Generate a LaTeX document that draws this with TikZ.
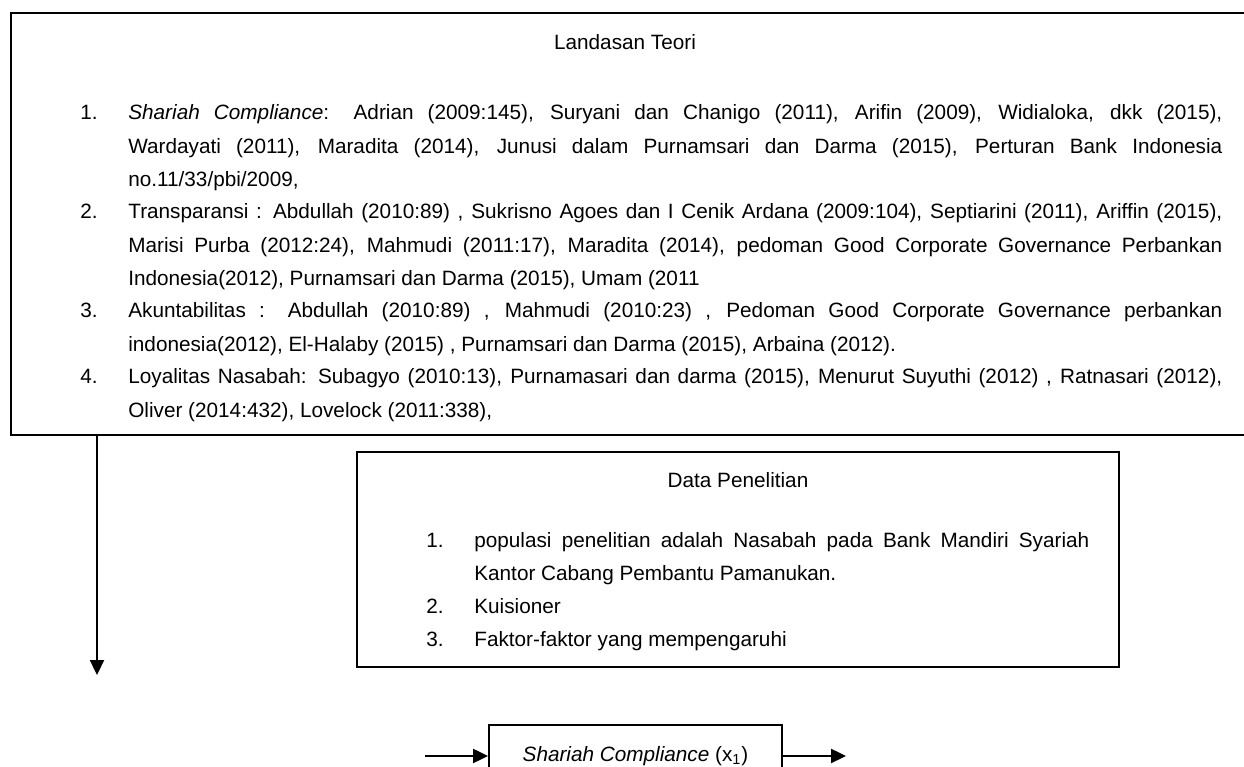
\documentclass[tikz,border=0pt]{standalone}
\usepackage{fontspec}
\setmainfont{Liberation Sans}
\usetikzlibrary{arrows.meta,positioning}
\newcommand{\jl}[1]{\makebox[\linewidth][s]{#1}}
\newcommand{\butir}[3]{\makebox[0.96cm][l]{#1}\parbox[t]{#2}{#3}}

\begin{document}
\begin{tikzpicture}[
    kotak/.style={draw,line width=1.1pt,inner sep=0pt},
    teks/.style={inner sep=0pt,anchor=base west,font=\fontsize{11.8}{18.8}\selectfont},
    judul/.style={inner sep=0pt,anchor=base,font=\fontsize{11.8}{18.8}\selectfont},
    panah/.style={line width=1.1pt,-{Triangle[length=8.5pt,width=8pt]}}]
  \useasboundingbox (0,0) rectangle (24.88,15.34);
  % landasan teori
  \node[kotak,minimum width=24.86cm,minimum height=8.44cm] (teori) at (12.65,10.86) {};
  \node[judul] (jteori) at (12.5,14.34) {Landasan Teori};
  \node[teks] (t1) at (1.6,12.94) {\butir{1.}{21.88cm}{%
    \jl{\textit{Shariah Compliance}: Adrian (2009:145), Suryani dan Chanigo (2011), Arifin (2009), Widialoka, dkk (2015),}\\
    \jl{Wardayati (2011), Maradita (2014), Junusi dalam Purnamsari dan Darma (2015), Perturan Bank Indonesia}\\
    no.11/33/pbi/2009,}};
  \node[teks] (t2) at (1.6,10.96) {\butir{2.}{21.88cm}{%
    \jl{Transparansi : Abdullah (2010:89) , Sukrisno Agoes dan I Cenik Ardana (2009:104), Septiarini (2011), Ariffin (2015),}\\
    \jl{Marisi Purba (2012:24), Mahmudi (2011:17), Maradita (2014), pedoman Good Corporate Governance Perbankan}\\
    Indonesia(2012), Purnamsari dan Darma (2015), Umam (2011}};
  \node[teks] (t3) at (1.6,8.98) {\butir{3.}{21.88cm}{%
    \jl{Akuntabilitas : Abdullah (2010:89) , Mahmudi (2010:23) , Pedoman Good Corporate Governance perbankan}\\
    indonesia(2012), El-Halaby (2015) , Purnamsari dan Darma (2015), Arbaina (2012).}};
  \node[teks] (t4) at (1.6,7.66) {\butir{4.}{21.88cm}{%
    \jl{Loyalitas Nasabah: Subagyo (2010:13), Purnamasari dan darma (2015), Menurut Suyuthi (2012) , Ratnasari (2012),}\\
    Oliver (2014:432), Lovelock (2011:338),}};
  % data penelitian
  \node[kotak,minimum width=15.24cm,minimum height=4.30cm] (data) at (14.76,4.15) {};
  \node[judul] (jdata) at (14.76,5.59) {Data Penelitian};
  \node[teks] (d1) at (8.52,4.39) {\butir{1.}{12.3cm}{%
    \jl{populasi penelitian adalah Nasabah pada Bank Mandiri Syariah}\\
    Kantor Cabang Pembantu Pamanukan.}};
  \node[teks] (d2) at (8.52,3.07) {\butir{2.}{12.3cm}{Kuisioner}};
  \node[teks] (d3) at (8.52,2.41) {\butir{3.}{12.3cm}{Faktor-faktor yang mempengaruhi}};
  % variabel
  \node[kotak,minimum width=5.86cm,minimum height=1.24cm,font=\fontsize{11.8}{14}\selectfont] (sc) at (12.71,0.22)
    {\textit{Shariah Compliance} (x\textsubscript{1})};
  \coordinate (ujung) at (1.94,1.84);
  \coordinate (masuk) at (8.5,0.22);
  \coordinate (keluar) at (16.92,0.22);
  \draw[panah] (teori.south -| ujung) -- (ujung);
  \draw[panah] (masuk) -- (sc.west);
  \draw[panah] (sc.east) -- (keluar);
\end{tikzpicture}
\end{document}
